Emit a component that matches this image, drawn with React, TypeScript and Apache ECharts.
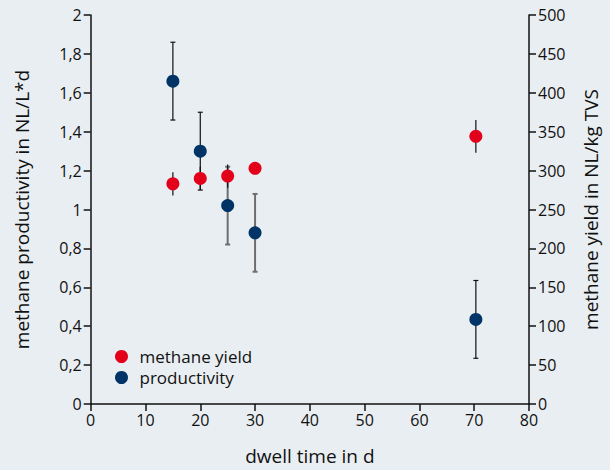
import React, { useEffect, useRef } from "react";
import * as echarts from "echarts";

const dwellTime = [15, 20, 25, 30, 70.3];
const productivity = [1.66, 1.3, 1.02, 0.88, 0.435];
const productivityErr = [0.2, 0.2, 0.2, 0.2, 0.2];
const methaneYield = [283, 290, 293, 303, 344];
const methaneYieldErr = [15, 15, 15, 0, 21];

const xTicks = { min: 0, max: 80, interval: 10 };
const leftTicks = { min: 0, max: 2, interval: 0.2 };
const rightTicks = { min: 0, max: 500, interval: 50 };

const FONT = "'Open Sans', 'Noto Sans', sans-serif";
const RED = "#e2001a";
const BLUE = "#003466";
const INK = "#111111";

function makeErr(values: number[], errs: number[]) {
  return dwellTime.map((x, i) => [x, values[i] - errs[i], values[i] + errs[i], i]);
}

function errRender(withCaps: boolean, greyIdx: number[]) {
  return (params: any, api: any) => {
    const x = api.value(0);
    const lo = api.value(1);
    const hi = api.value(2);
    const idx = api.value(3);
    if (hi - lo <= 0) return { type: "group", children: [] };
    const p1 = api.coord([x, lo]);
    const p2 = api.coord([x, hi]);
    const grey = greyIdx.indexOf(idx) >= 0;
    const style = { stroke: grey ? "#6e6e6e" : "#111", lineWidth: grey ? 2 : 1.2 };
    const children: any[] = [
      { type: "line", shape: { x1: p1[0], y1: p1[1], x2: p2[0], y2: p2[1] }, style },
    ];
    if (withCaps) {
      children.push({ type: "line", shape: { x1: p1[0] - 2.5, y1: p1[1], x2: p1[0] + 2.5, y2: p1[1] }, style });
      children.push({ type: "line", shape: { x1: p2[0] - 2.5, y1: p2[1], x2: p2[0] + 2.5, y2: p2[1] }, style });
    }
    return { type: "group", children };
  };
}

export default function App() {
  const ref = useRef<HTMLDivElement>(null);
  useEffect(() => {
    if (!ref.current) return;
    const chart = echarts.init(ref.current, undefined, { renderer: "svg" });
    const axisLine = { show: true, lineStyle: { color: INK, width: 1.5 } };
    const axisTick = { show: true, length: 7, lineStyle: { color: INK, width: 1.5 } };
    const labelStyle = { color: INK, fontSize: 16, fontFamily: FONT };
    const nameStyle = { color: INK, fontSize: 19, fontFamily: FONT };
    chart.setOption({
      animation: false,
      backgroundColor: "#e9eef2",
      grid: { left: 90.7, right: 81, top: 15, bottom: 65, containLabel: false },
      legend: {
        orient: "vertical",
        left: 110,
        top: 343,
        icon: "circle",
        itemWidth: 26,
        itemHeight: 13,
        itemGap: 4,
        textStyle: { color: INK, fontSize: 17, fontFamily: FONT },
        data: ["methane yield", "productivity"],
      },
      xAxis: {
        type: "value",
        ...xTicks,
        name: "dwell time in d",
        nameLocation: "middle",
        nameGap: 42,
        nameTextStyle: nameStyle,
        axisLine: { ...axisLine, onZero: false },
        axisTick,
        axisLabel: { ...labelStyle, margin: 8 },
        splitLine: { show: false },
      },
      yAxis: [
        {
          type: "value",
          ...leftTicks,
          position: "left",
          name: "methane productivity in NL/L*d",
          nameLocation: "middle",
          nameGap: 59,
          nameTextStyle: nameStyle,
          axisLine,
          axisTick,
          axisLabel: {
            ...labelStyle,
            margin: 9,
            formatter: (v: number) => String(Math.round(v * 10) / 10).replace(".", ","),
          },
          splitLine: { show: false },
        },
        {
          type: "value",
          ...rightTicks,
          position: "right",
          name: "methane yield in NL/kg TVS",
          nameLocation: "middle",
          nameGap: 52,
          nameTextStyle: nameStyle,
          axisLine,
          axisTick,
          axisLabel: { ...labelStyle, margin: 9 },
          splitLine: { show: false },
        },
      ],
      series: [
        {
          name: "productivity err",
          type: "custom",
          yAxisIndex: 0,
          z: 1,
          renderItem: errRender(true, [2, 3]),
          encode: { x: 0, y: [1, 2] },
          data: makeErr(productivity, productivityErr),
        },
        {
          name: "yield err",
          type: "custom",
          yAxisIndex: 1,
          z: 1,
          renderItem: errRender(false, []),
          encode: { x: 0, y: [1, 2] },
          data: makeErr(methaneYield, methaneYieldErr),
        },
        {
          name: "methane yield",
          type: "scatter",
          yAxisIndex: 1,
          z: 3,
          symbolSize: 13,
          itemStyle: { color: RED, opacity: 1 },
          data: dwellTime.map((x, i) => [x, methaneYield[i]]),
        },
        {
          name: "productivity",
          type: "scatter",
          yAxisIndex: 0,
          z: 3,
          symbolSize: 13,
          itemStyle: { color: BLUE, opacity: 1 },
          data: dwellTime.map((x, i) => [x, productivity[i]]),
        },
      ],
    });
    return () => chart.dispose();
  }, []);
  return (
    <div
      ref={ref}
      style={{ position: "fixed", left: 0, top: 0, width: 610, height: 470 }}
    />
  );
}
